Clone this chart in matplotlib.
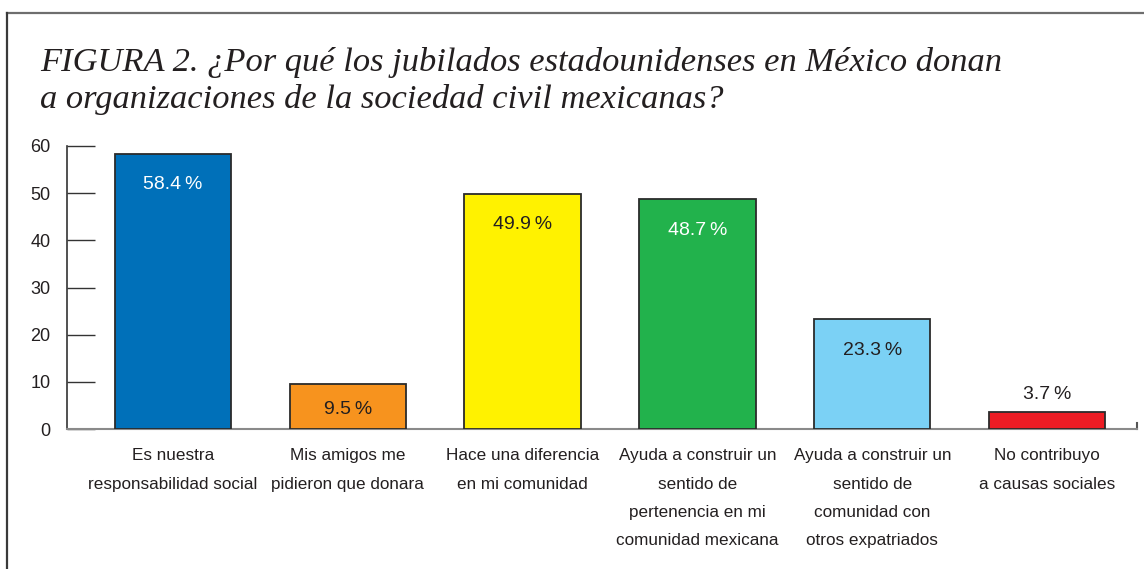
import matplotlib.pyplot as plt
from matplotlib.lines import Line2D

categorias = [
    'Es nuestra\nresponsabilidad social',
    'Mis amigos me\npidieron que donara',
    'Hace una diferencia\nen mi comunidad',
    'Ayuda a construir un\nsentido de\npertenencia en mi\ncomunidad mexicana',
    'Ayuda a construir un\nsentido de\ncomunidad con\notros expatriados',
    'No contribuyo\na causas sociales',
]
valores = [58.4, 9.5, 49.9, 48.7, 23.3, 3.7]
colores = ['#0070b9', '#f7931e', '#fff200', '#22b24c', '#7bd1f5', '#ed1c24']
color_texto = ['white', '#231f20', '#231f20', 'white', '#231f20', '#231f20']

titulo = ('FIGURA 2. ¿Por qué los jubilados estadounidenses en México donan\n'
          'a organizaciones de la sociedad civil mexicanas?')

sans = ['Liberation Sans', 'DejaVu Sans']

fig = plt.figure(figsize=(11.44, 5.69), dpi=100)
ax = fig.add_axes([67/1144, 140/569, 1070/1144, 283/569])

x = list(range(len(valores)))
ax.bar(x, valores, width=0.665, color=colores, edgecolor='#2b2b2b', linewidth=1.3, zorder=3)

for i, v in enumerate(valores):
    if v < 5:
        off = 12
    elif v < 15:
        off = -18
    else:
        off = -22.5
    ax.annotate(f'{v:.1f}\u2009%', (i, v), xytext=(0, off), textcoords='offset points',
                ha='center', va='center', fontsize=14, color=color_texto[i],
                family=sans, zorder=4)

ax.set_xlim(-0.606, 5.514)
ax.set_ylim(0, 60)
ax.set_yticks(range(0, 61, 10))
ax.tick_params(axis='y', direction='in', length=20, width=1, color='#333333',
               pad=12, labelsize=13, labelcolor='#231f20')
for t in ax.get_yticklabels():
    t.set_family(sans)

ax.set_xticks(x)
ax.set_xticklabels(categorias, family=sans, fontsize=12.3, linespacing=2.1,
                   color='#231f20', va='top')
ax.tick_params(axis='x', length=0, pad=14)

for s in ['top', 'right']:
    ax.spines[s].set_visible(False)
ax.spines['left'].set_color('#333333')
ax.spines['left'].set_linewidth(1.2)
ax.spines['bottom'].set_color('#8a8a8a')
ax.spines['bottom'].set_linewidth(1.5)
ax.axvline(5.514, ymin=0, ymax=0.022, color='#555555', linewidth=1.5, clip_on=False)

fig.text(40/1144, 1 - 47/569, titulo, ha='left', va='top', fontsize=24.8,
         family=['Liberation Serif', 'DejaVu Serif'], style='italic',
         color='#231f20', linespacing=1.25)

fig.add_artist(Line2D([7/1144, 1], [1 - 13/569, 1 - 13/569], color='#6e6e6e', linewidth=1.6))
fig.add_artist(Line2D([7/1144, 7/1144], [0, 1 - 13/569], color='#3a3a3a', linewidth=1.6))

fig.savefig('out.png', dpi=100)
